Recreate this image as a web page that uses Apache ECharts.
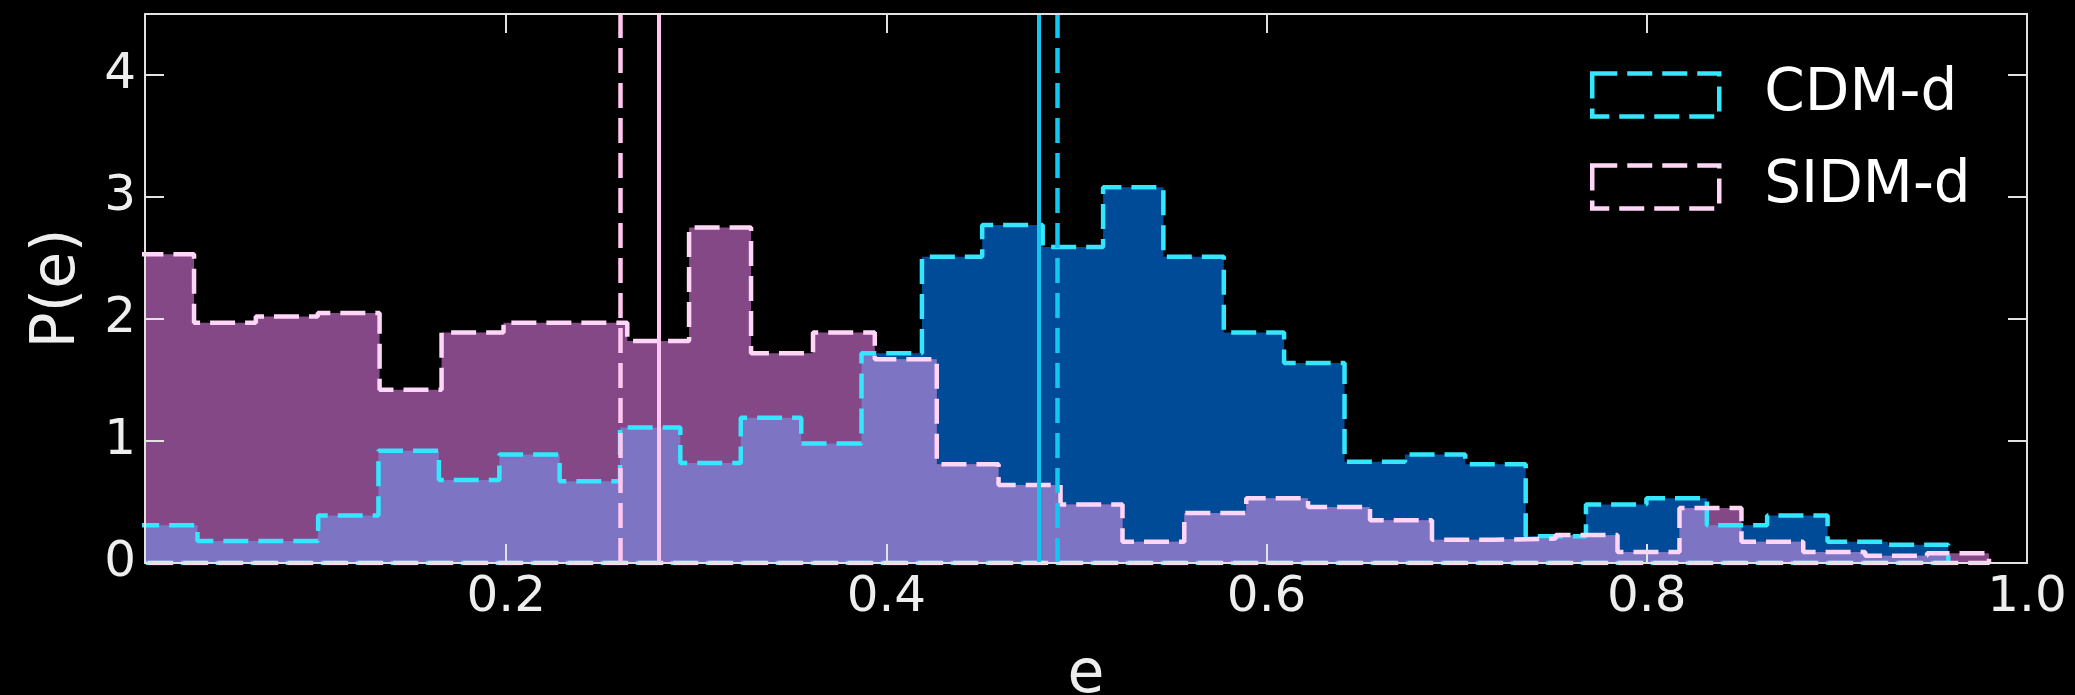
<!DOCTYPE html>
<html>
<head>
<meta charset="utf-8">
<script src="https://cdn.jsdelivr.net/npm/echarts@6/dist/echarts.min.js"></script>
<style>
  html, body { margin: 0; padding: 0; background: #000; }
  #chart { width: 2075px; height: 695px; }
</style>
</head>
<body>
<div id="chart"></div>
<script>
// Eccentricity distributions: normalised histograms, 30 bins each.
const cdmEdges = [0.0058, 0.0376, 0.0693, 0.1011, 0.1328, 0.1646, 0.1964, 0.2281, 0.2599, 0.2916,
  0.3234, 0.3552, 0.3869, 0.4187, 0.4504, 0.4822, 0.5140, 0.5457, 0.5775, 0.6092,
  0.6410, 0.6728, 0.7045, 0.7363, 0.7680, 0.7998, 0.8316, 0.8633, 0.8951, 0.9268, 0.9586];
const cdmDensity = [0.31, 0.18, 0.18, 0.39, 0.92, 0.68, 0.89, 0.67, 1.11, 0.82,
  1.19, 0.98, 1.72, 2.51, 2.77, 2.59, 3.08, 2.51, 1.89, 1.64,
  0.83, 0.89, 0.81, 0.22, 0.48, 0.53, 0.31, 0.39, 0.175, 0.15];

const sidmEdges = [0.0032, 0.0358, 0.0683, 0.1009, 0.1334, 0.1660, 0.1986, 0.2311, 0.2637, 0.2962,
  0.3288, 0.3614, 0.3939, 0.4265, 0.4590, 0.4916, 0.5242, 0.5567, 0.5893, 0.6218,
  0.6544, 0.6870, 0.7195, 0.7521, 0.7846, 0.8172, 0.8498, 0.8823, 0.9149, 0.9474, 0.9800];
const sidmDensity = [2.53, 1.97, 2.02, 2.05, 1.42, 1.89, 1.97, 1.97, 1.82, 2.75,
  1.72, 1.89, 1.67, 0.81, 0.64, 0.48, 0.175, 0.41, 0.53, 0.46,
  0.35, 0.19, 0.20, 0.23, 0.09, 0.45, 0.175, 0.09, 0.06, 0.08];

// Reference markers (solid and dashed vertical lines) for each sample
const cdmSolidMark = 0.478;
const cdmDashedMark = 0.488;
const sidmSolidMark = 0.277;
const sidmDashedMark = 0.2595;

const xTicks = [0.2, 0.4, 0.6, 0.8, 1.0];
const yTicks = [0, 1, 2, 3, 4];

const FONT = 'DejaVu Sans';
const CYAN = '#35e6ff';
const CYAN_MARK = '#12c6f2';
const PINK = '#ffd6f8';
const PINK_MARK = '#ffc6f0';
const FRAME = '#e2e2e2';

// Closed step outline of a histogram
function stepPoints(edges, vals, closeBottom) {
  const pts = [[edges[0], 0]];
  for (let i = 0; i < vals.length; i++) {
    pts.push([edges[i], vals[i]]);
    pts.push([edges[i + 1], vals[i]]);
  }
  pts.push([edges[edges.length - 1], 0]);
  if (closeBottom) pts.push([edges[0], 0]);
  return pts;
}

// Region covered by both histograms (pointwise minimum of the two step functions)
function overlapPoints(eA, vA, eB, vB) {
  const xs = Array.from(new Set(eA.concat(eB))).sort((a, b) => a - b);
  const valAt = (e, v, x) => {
    for (let i = 0; i < v.length; i++) if (x >= e[i] && x < e[i + 1]) return v[i];
    return 0;
  };
  const pts = [[xs[0], 0]];
  for (let k = 0; k < xs.length - 1; k++) {
    const mid = (xs[k] + xs[k + 1]) / 2;
    const m = Math.min(valAt(eA, vA, mid), valAt(eB, vB, mid));
    pts.push([xs[k], m], [xs[k + 1], m]);
  }
  pts.push([xs[xs.length - 1], 0]);
  return pts;
}

function fillSeries(name, data, color) {
  return {
    name: name, type: 'line', data: data, symbol: 'none', showSymbol: false,
    lineStyle: { width: 0 }, areaStyle: { color: color, opacity: 1 },
    silent: true, clip: true
  };
}

function outlineSeries(name, data, color, marks) {
  return {
    name: name, type: 'line', data: data, symbol: 'none', showSymbol: false,
    lineStyle: { color: color, width: 4.5, type: [25, 10] },
    silent: true, clip: true,
    markLine: {
      symbol: 'none', silent: true, label: { show: false },
      data: marks
    }
  };
}

const axisLineStyle = { show: true, onZero: false, lineStyle: { color: FRAME, width: 2 } };
const tickStyle = (values) => ({
  show: true, inside: true, length: 19, customValues: values,
  lineStyle: { color: FRAME, width: 2 }
});

const option = {
  backgroundColor: '#000',
  animation: false,
  grid: { left: 145, right: 48, top: 14, bottom: 132, containLabel: false, outerBoundsMode: 'none' },
  xAxis: [
    {
      type: 'value', min: 0.01, max: 1.0, position: 'bottom', z: 10,
      axisLine: axisLineStyle,
      axisTick: tickStyle(xTicks),
      axisLabel: { show: true, customValues: xTicks, formatter: v => v.toFixed(1),
        color: '#eeeeee', fontSize: 50, fontFamily: FONT, margin: 10 },
      splitLine: { show: false },
      name: 'e', nameLocation: 'middle', nameGap: 83,
      nameTextStyle: { color: '#eeeeee', fontSize: 60, fontFamily: FONT }
    },
    {
      type: 'value', min: 0.01, max: 1.0, position: 'top', z: 10,
      axisLine: axisLineStyle,
      axisTick: tickStyle(xTicks),
      axisLabel: { show: false }, splitLine: { show: false }
    }
  ],
  yAxis: [
    {
      type: 'value', min: 0, max: 4.5, position: 'left', z: 10,
      axisLine: axisLineStyle,
      axisTick: tickStyle(yTicks),
      axisLabel: { show: true, customValues: yTicks, color: '#eeeeee', fontSize: 50, fontFamily: FONT, margin: 9 },
      splitLine: { show: false },
      name: 'P(e)', nameLocation: 'middle', nameGap: 57, nameRotate: 90,
      nameTextStyle: { color: '#eeeeee', fontSize: 60, fontFamily: FONT }
    },
    {
      type: 'value', min: 0, max: 4.5, position: 'right', z: 10,
      axisLine: axisLineStyle,
      axisTick: tickStyle(yTicks),
      axisLabel: { show: false }, splitLine: { show: false }
    }
  ],
  legend: {
    orient: 'vertical', left: 1585, top: 61,
    itemWidth: 127, itemHeight: 43, itemGap: 34,
    selectedMode: false,
    textStyle: { color: '#ffffff', fontSize: 58, fontFamily: FONT, padding: [0, 0, 0, 40] },
    data: [
      { name: 'CDM-d', icon: 'rect',
        itemStyle: { color: 'rgba(0,0,0,0)', borderColor: CYAN, borderWidth: 4.5, borderType: [25, 10] } },
      { name: 'SIDM-d', icon: 'rect',
        itemStyle: { color: 'rgba(0,0,0,0)', borderColor: PINK, borderWidth: 4.5, borderType: [25, 10] } }
    ]
  },
  series: [
    fillSeries('CDM-d fill', stepPoints(cdmEdges, cdmDensity, false), '#004b97'),
    fillSeries('SIDM-d fill', stepPoints(sidmEdges, sidmDensity, false), '#844886'),
    fillSeries('overlap', overlapPoints(cdmEdges, cdmDensity, sidmEdges, sidmDensity), '#7d74c4'),
    outlineSeries('CDM-d', stepPoints(cdmEdges, cdmDensity, true), CYAN, [
      { xAxis: cdmSolidMark, lineStyle: { color: CYAN_MARK, width: 4, type: 'solid' } },
      { xAxis: cdmDashedMark, lineStyle: { color: CYAN_MARK, width: 4.5, type: [25, 10] } }
    ]),
    outlineSeries('SIDM-d', stepPoints(sidmEdges, sidmDensity, true), PINK, [
      { xAxis: sidmSolidMark, lineStyle: { color: PINK_MARK, width: 4, type: 'solid' } },
      { xAxis: sidmDashedMark, lineStyle: { color: PINK_MARK, width: 4.5, type: [25, 10] } }
    ])
  ]
};

const chart = echarts.init(document.getElementById('chart'), null, { renderer: 'canvas' });
chart.setOption(option);
</script>
</body>
</html>
